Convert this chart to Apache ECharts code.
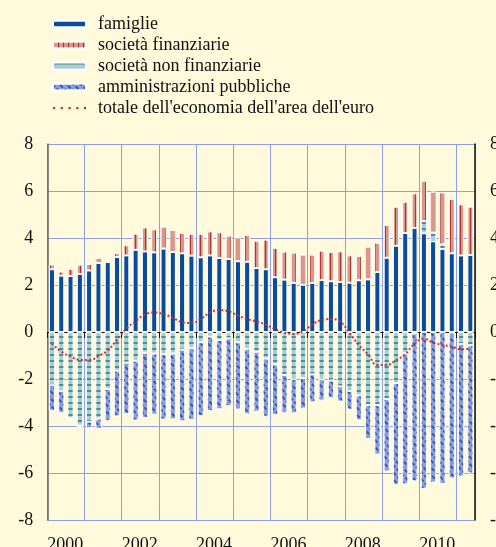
<!DOCTYPE html>
<html>
<head>
<meta charset="utf-8">
<script src="https://cdn.jsdelivr.net/npm/echarts@6/dist/echarts.min.js"></script>
<style>
html, body { margin: 0; padding: 0; background: #fffadb; }
#chart { width: 496px; height: 547px; }
</style>
</head>
<body>
<div id="chart"></div>
<script>
// trimestri 2000T1 - 2011T2
var firstYear = 2000, nQuarters = 46;
var quarters = [];
for (var i = 0; i < nQuarters; i++) {
	quarters.push((firstYear + Math.floor(i / 4)) + 'T' + (i % 4 + 1));
}

var famiglie = [2.67, 2.40, 2.38, 2.47, 2.62, 2.94, 2.98, 3.19, 3.26, 3.50, 3.43, 3.39, 3.55, 3.40, 3.35, 3.25,
	3.18, 3.26, 3.15, 3.11, 3.01, 2.99, 2.72, 2.67, 2.33, 2.23, 2.09, 2.01, 2.09, 2.21, 2.16, 2.13,
	2.10, 2.20, 2.24, 2.55, 3.16, 3.67, 4.21, 4.43, 4.20, 3.86, 3.53, 3.35, 3.26, 3.28];
var finanziarie = [0.20, 0.17, 0.31, 0.39, 0.27, 0.21, 0.05, 0.16, 0.43, 0.68, 1.02, 0.98, 0.93, 0.94, 0.86, 0.92,
	0.99, 1.02, 1.09, 0.99, 1.02, 1.14, 1.15, 1.26, 1.24, 1.19, 1.29, 1.28, 1.20, 1.25, 1.24, 1.30,
	1.16, 1.03, 1.39, 1.25, 1.39, 1.66, 1.33, 1.47, 1.71, 1.74, 2.21, 2.31, 2.17, 2.05];
var nonFinanziarie = [-2.26, -2.51, -3.67, -3.98, -3.82, -3.69, -2.43, -1.65, -1.30, -1.23, -0.88, -0.92, -0.95, -0.92, -0.75, -0.68,
	-0.44, -0.20, -0.34, -0.27, -0.44, -0.72, -0.84, -1.13, -1.38, -1.83, -2.01, -1.96, -1.80, -2.01, -2.06, -2.31,
	-2.51, -2.70, -3.12, -3.12, -2.86, -2.18, -0.91, -0.06, 0.52, 0.37, 0.20, -0.03, -0.51, -0.57];
var amministrazioni = [-1.09, -0.94, -0.05, -0.06, -0.28, -0.43, -1.35, -1.94, -2.19, -2.53, -2.77, -2.60, -2.77, -2.80, -3.05, -3.06,
	-3.13, -3.16, -2.95, -2.88, -2.85, -2.78, -2.55, -2.47, -2.15, -1.62, -1.45, -1.30, -1.19, -0.91, -0.75, -0.65,
	-0.79, -1.06, -1.43, -2.10, -3.08, -4.32, -5.57, -6.29, -6.67, -6.41, -6.47, -6.20, -5.63, -5.44];
var totale = [-0.50, -0.83, -1.04, -1.18, -1.19, -1.03, -0.78, -0.33, 0.14, 0.46, 0.74, 0.83, 0.76, 0.60, 0.42, 0.38,
	0.55, 0.82, 0.93, 0.88, 0.70, 0.55, 0.45, 0.31, 0.12, -0.03, -0.08, 0.03, 0.32, 0.51, 0.55, 0.44,
	-0.04, -0.55, -0.95, -1.40, -1.40, -1.20, -0.94, -0.50, -0.30, -0.45, -0.55, -0.62, -0.74, -0.69];

var names = ['famiglie', 'società finanziarie', 'società non finanziarie', 'amministrazioni pubbliche',
	"totale dell'economia dell'area dell'euro"];

var font = "'Liberation Serif', 'Times New Roman', serif";
var gridColor = '#8fa2dc';

function bar(name, values, color, decal) {
	return {
		name: name,
		type: 'bar',
		stack: 'settori',
		barWidth: 6,
		data: values,
		itemStyle: {
			color: color,
			borderColor: '#ffffff',
			borderWidth: 0.8,
			decal: decal
		}
	};
}

// icona puntinata per la linea nella legenda
var dotsIcon = 'path://M0,0L0.01,0ZM0,7L0.01,7ZM33,0L33.01,0Z' +
	'M0,2.5h2.2v2.2h-2.2zM8,2.5h2.2v2.2h-2.2zM16,2.5h2.2v2.2h-2.2zM24,2.5h2.2v2.2h-2.2zM31.8,2.5h2.2v2.2h-2.2z';

var chart = echarts.init(document.getElementById('chart'));

var option = {
	backgroundColor: '#fffadb',
	animation: false,
	aria: { enabled: true, decal: { show: true } },
	textStyle: { fontFamily: font },
	grid: { left: 47.3, right: 21, top: 144, bottom: 27, outerBoundsMode: 'none' },
	legend: {
		orient: 'vertical',
		left: 47,
		top: 10,
		itemWidth: 33,
		itemHeight: 7,
		itemGap: 3,
		data: [names[0], names[1], names[2], names[3], { name: names[4], icon: dotsIcon }],
		textStyle: { fontFamily: font, fontSize: 18, color: '#111', padding: [0, 0, 0, 7] }
	},
	xAxis: [{
		type: 'category',
		data: quarters,
		show: false,
		position: 'top',
		boundaryGap: true
	}, {
		type: 'value',
		position: 'bottom',
		min: 2000,
		max: 2011.5,
		interval: 1,
		offset: 3,
		axisLine: { lineStyle: { color: '#111', width: 1 } },
		axisTick: { show: true, length: 6, lineStyle: { color: '#111' } },
		axisLabel: {
			fontFamily: font, fontSize: 18, color: '#111', align: 'left', margin: 13,
			formatter: function(v) { return (v % 2 === 0) ? String(v) : ''; }
		},
		splitLine: { show: true, lineStyle: { color: gridColor, width: 1 } }
	}],
	yAxis: [{
		type: 'value',
		min: -8,
		max: 8,
		interval: 2,
		axisLine: { show: true, lineStyle: { color: '#666', width: 1.5 } },
		axisTick: { show: false },
		axisLabel: { fontFamily: font, fontSize: 18, color: '#111', margin: 14 },
		splitLine: {
			show: true,
			lineStyle: { color: [gridColor, gridColor, gridColor, gridColor, '#222', gridColor, gridColor, gridColor, gridColor], width: 1 }
		}
	}, {
		type: 'value',
		position: 'right',
		min: -8,
		max: 8,
		interval: 2,
		axisLine: { show: true, lineStyle: { color: '#111', width: 1.5 } },
		axisTick: { show: false },
		axisLabel: { fontFamily: font, fontSize: 18, color: '#111', margin: 15 },
		splitLine: { show: false }
	}],
	series: [
		bar(names[0], famiglie, '#0a4b9b', { symbol: 'none' }),
		bar(names[2], nonFinanziarie, '#a9cdd0', {
			symbol: 'rect', symbolSize: 1, color: '#4a8f96', rotation: 0,
			dashArrayX: [[1, 0]], dashArrayY: [1.2, 3.2]
		}),
		bar(names[1], finanziarie, '#d9978a', {
			symbol: 'rect', symbolSize: 1, color: '#b5332b', rotation: 0,
			dashArrayX: [[1, 3.5]], dashArrayY: [4, 0]
		}),
		bar(names[3], amministrazioni, '#8c9fd9', {
			symbol: 'rect', symbolSize: 1, color: '#3558bd', rotation: Math.PI / 4,
			dashArrayX: [[4, 2]], dashArrayY: [1.2, 3]
		}),
		{
			name: names[4],
			type: 'line',
			data: totale,
			smooth: true,
			showSymbol: false,
			symbol: 'none',
			z: 5,
			itemStyle: { color: '#c8342c' },
			lineStyle: { color: '#c8342c', width: 2, type: [2, 2.2] }
		}
	]
};

chart.setOption(option);
</script>
</body>
</html>
